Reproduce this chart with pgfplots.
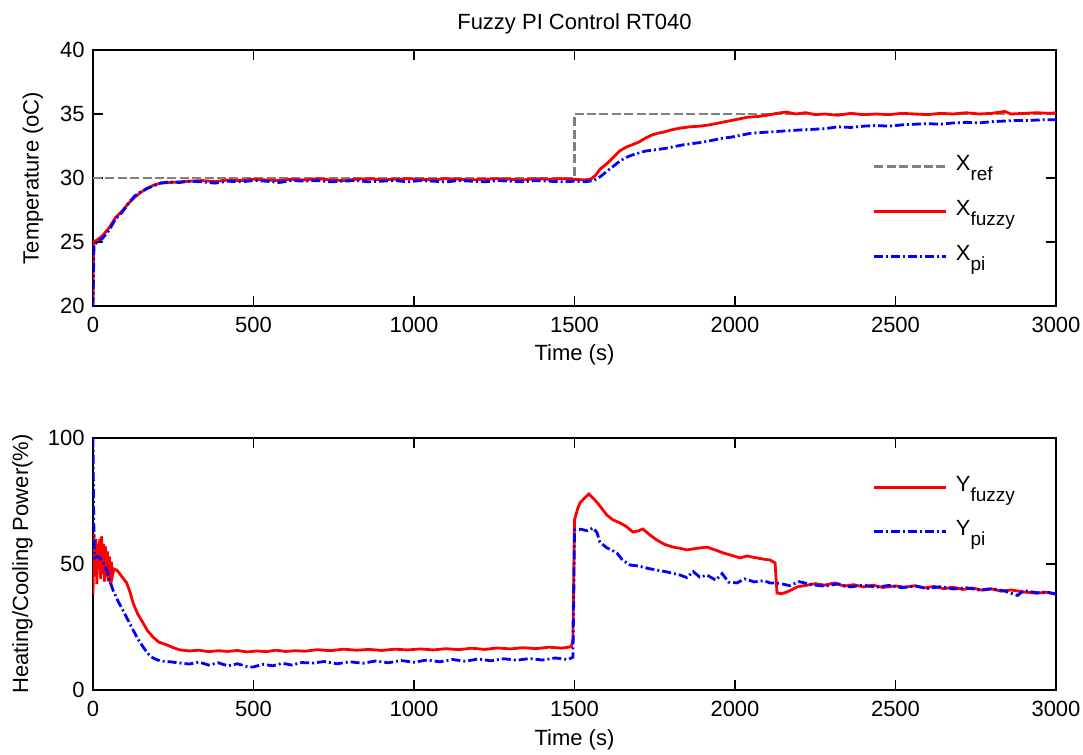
\documentclass[border=0pt]{standalone}
\usepackage{fontspec}
\setmainfont{Liberation Sans}
\usepackage{pgfplots}
\pgfplotsset{compat=1.18}
\usepackage{pgfplotstable}

% hand
\pgfplotstableread{
t T
0 20
2 25.0
15 25.2
30 25.5
50 26.1
70 26.9
90 27.4
110 28.0
130 28.5
150 28.9
170 29.2
190 29.45
210 29.6
240 29.65
270 29.7
300 29.75
340 29.8
380 29.72
420 29.85
460 29.8
500 29.9
540 29.85
580 29.8
620 29.9
660 29.85
700 29.95
740 29.85
780 29.8
820 29.9
860 29.95
900 29.85
940 29.9
980 29.95
1020 29.9
1060 29.85
1100 29.95
1140 29.9
1180 29.85
1220 29.9
1260 29.95
1300 29.9
1340 29.85
1380 29.95
1420 29.9
1460 29.95
1500 29.9
1530 29.85
1550 29.9
1565 30.2
1580 30.7
1600 31.1
1620 31.6
1640 32.1
1660 32.4
1680 32.6
1700 32.8
1720 33.1
1740 33.35
1760 33.5
1780 33.6
1800 33.75
1830 33.9
1860 34.0
1890 34.05
1920 34.15
1950 34.3
1980 34.45
2010 34.6
2040 34.75
2070 34.8
2100 34.9
2130 35.05
2160 35.15
2190 35.0
2220 35.1
2250 34.95
2280 35.0
2320 34.9
2360 35.05
2400 34.95
2440 35.0
2480 34.95
2520 35.05
2560 35.0
2600 34.95
2640 35.05
2680 35.0
2720 35.1
2760 35.0
2800 35.05
2840 35.2
2860 35.0
2900 35.05
2940 35.1
2980 35.05
3000 35.1
}\xfuzzy

\pgfplotstableread{
t T
0 20
3 24.8
15 25.0
30 25.3
50 25.9
70 26.8
90 27.3
110 28.0
130 28.6
150 28.95
170 29.2
190 29.4
210 29.6
240 29.7
270 29.65
300 29.75
340 29.7
380 29.6
420 29.75
460 29.7
500 29.8
540 29.75
580 29.65
620 29.8
660 29.75
700 29.8
740 29.7
780 29.75
820 29.8
860 29.7
900 29.75
940 29.8
980 29.7
1020 29.8
1060 29.75
1100 29.7
1140 29.8
1180 29.75
1220 29.7
1260 29.8
1300 29.75
1340 29.7
1380 29.8
1420 29.75
1460 29.7
1500 29.75
1530 29.7
1560 29.8
1580 30.1
1600 30.5
1620 30.9
1640 31.3
1660 31.6
1680 31.8
1700 31.95
1720 32.1
1750 32.2
1780 32.3
1810 32.45
1840 32.6
1870 32.7
1900 32.8
1930 32.95
1960 33.1
1990 33.2
2020 33.35
2050 33.5
2080 33.55
2110 33.6
2140 33.65
2170 33.7
2200 33.75
2240 33.8
2280 33.85
2320 34.0
2360 33.95
2400 34.05
2440 34.1
2480 34.05
2520 34.15
2560 34.2
2600 34.25
2640 34.2
2680 34.3
2720 34.35
2760 34.3
2800 34.4
2840 34.45
2880 34.5
2920 34.5
2960 34.55
3000 34.55
}\xpi

\pgfplotstableread{
t P
0 38
3 62
6 45
9 60
12 42
15 58
18 48
21 60
24 44
27 61
30 46
33 58
36 43
39 57
42 45
45 55
48 43
51 53
54 42
57 51
60 45
65 48
75 47.5
90 45
105 42.5
115 39
125 34.5
140 30
156 26.6
170 23.5
187 21
205 19
230 17.9
250 16.8
271 15.9
300 15.5
330 15.8
360 15.2
390 15.6
420 15.3
450 15.7
480 15.1
510 15.5
540 15.2
570 15.8
600 15.3
630 15.6
660 15.4
700 16.0
740 15.6
780 16.2
820 15.8
860 16.1
900 15.7
940 16.2
980 15.9
1020 16.3
1060 15.9
1100 16.4
1140 16.0
1180 16.6
1220 16.1
1260 16.7
1300 16.3
1340 16.8
1380 16.4
1420 17.0
1460 16.6
1490 17.2
1495 20
1500 67.5
1510 72
1517 74.2
1530 76
1545 77.8
1570 74.5
1601 69.4
1620 67.5
1642 66.3
1660 65
1682 62.7
1700 63.2
1713 63.9
1735 61.5
1757 59.5
1780 57.8
1807 56.7
1830 56.2
1850 55.6
1880 56.2
1913 56.7
1940 55.5
1963 54.4
1990 53.4
2016 52.4
2037 53.2
2060 52.6
2090 51.9
2109 51.6
2125 50.4
2128 44
2131 38.5
2145 38.2
2162 38.9
2180 40
2193 40.9
2220 41.5
2250 42.2
2280 41.6
2310 42.5
2340 41.2
2370 41.8
2400 40.9
2430 41.6
2460 40.7
2500 41.3
2530 40.8
2560 41.4
2590 40.5
2620 41.1
2650 40.2
2680 40.8
2710 39.9
2740 40.5
2770 39.6
2800 40.1
2830 39.2
2860 39.7
2900 38.9
2940 38.4
2970 38.8
3000 38.0
}\yfuzzy

\pgfplotstableread{
t P
0 100
2 70
4 55
6 52.5
12 53
22 52.4
30 51
43 47.6
52 43.5
62 39.7
77 35.5
93 31.7
110 27.5
125 23.8
140 20.2
156 17.1
170 14.6
187 12.7
210 11.5
240 11.2
271 10.7
300 10.3
330 11.1
360 9.9
390 10.8
420 9.6
450 10.4
480 9.3
498 9.1
530 10.2
560 9.6
590 10.6
620 9.9
650 10.9
685 10.7
720 11.3
760 10.4
800 11.2
840 10.6
880 11.5
920 10.8
960 11.7
1000 11.0
1040 11.9
1080 11.2
1120 12.1
1160 11.4
1200 12.3
1240 11.6
1280 12.4
1320 11.8
1360 12.5
1400 11.9
1440 12.7
1480 12.1
1495 13
1498 40
1500 63.5
1520 63.8
1540 63.2
1558 64.3
1570 62.5
1579 58.7
1600 56.5
1632 54.4
1650 51.5
1673 49.6
1700 49.2
1730 48.2
1757 47.6
1790 46.8
1829 45.6
1850 44.6
1870 47
1890 44.8
1913 45.6
1940 43.6
1960 46.2
1980 42.8
2006 42.5
2030 44.1
2060 42.9
2090 43.4
2109 42.5
2140 42.3
2170 41.4
2200 43
2243 41.7
2280 41.2
2320 42.1
2360 40.9
2400 41.6
2440 40.8
2480 41.5
2520 40.6
2560 41.3
2600 40.3
2640 41.0
2680 40.1
2720 40.6
2760 39.7
2800 40.2
2840 39.3
2880 37.5
2900 39.5
2940 38.6
2970 38.9
3000 38.1
}\ypi

\definecolor{refgray}{RGB}{128,128,128}

\pgfplotsset{
  matlab/.style={
    scale only axis,
    width=481.5pt,
    font=\fontsize{11}{13}\selectfont,
    /pgf/number format/assume math mode=true,
    /pgf/number format/1000 sep={},
    axis line style={line width=0.6pt},
    tick style={black, line width=0.6pt},
    tick align=inside,
    major tick length=4.8pt,
    xmin=0, xmax=3000,
    xtick={0,500,...,3000},
    scaled x ticks=false,
    xticklabel style={inner sep=0pt, yshift=-5.5pt},
    yticklabel style={inner sep=0pt, xshift=-4pt},
    xlabel={Time (s)},
    legend cell align=left,
    legend image code/.code={\draw[##1] (0pt,0pt) -- (36pt,0pt);},
  },
  refline/.style={refgray, line width=1.4pt, dash pattern=on 4.5pt off 1.7pt},
  fuzline/.style={red, line width=1.4pt},
  piline/.style={blue, line width=1.4pt, dash pattern=on 4.5pt off 1.5pt on 1pt off 1.5pt},
}

\newcommand{\sub}[1]{\raisebox{-5pt}{\fontsize{9.5}{9.5}\selectfont #1}}

\begin{document}
\begin{tikzpicture}
\useasboundingbox (-46.5pt,25pt) rectangle (495pt,-352.5pt);

\begin{axis}[matlab,
  at={(0pt,0pt)}, anchor=north west,
  height=128pt,
  ymin=20, ymax=40, ytick={20,25,...,40},
  ylabel={Temperature (oC)},
  title={Fuzzy PI Control RT040},
  title style={at={(axis description cs:0.5,1)}, anchor=center, yshift=7pt, inner sep=0pt},
  xlabel style={at={(axis description cs:0.5,0)}, anchor=center, yshift=-24.5pt, inner sep=0pt},
  ylabel style={at={(axis description cs:-0.0623,0.5)}, anchor=center, inner sep=0pt},
  legend style={draw=none, fill=none, inner sep=0pt, outer sep=0pt,
    at={(0.81,0.622)}, anchor=north west, row sep=2.5pt, column sep=4pt,
    nodes={inner sep=0pt, text height=12pt, text depth=8pt}},
]
\addplot[refline] coordinates {(0,30) (1500,30) (1500,35) (3000,35)};
\addlegendentry{X\sub{ref}}
\addplot[fuzline] table[x=t, y=T] {\xfuzzy};
\addlegendentry{X\sub{fuzzy}}
\addplot[piline] table[x=t, y=T] {\xpi};
\addlegendentry{X\sub{pi}}
\end{axis}

\begin{axis}[matlab,
  at={(0pt,-194pt)}, anchor=north west,
  height=126pt,
  ymin=0, ymax=100, ytick={0,50,100},
  ylabel={Heating/Cooling Power(\%)},
  xlabel style={at={(axis description cs:0.5,0)}, anchor=center, yshift=-25pt, inner sep=0pt},
  ylabel style={at={(axis description cs:-0.0733,0.5)}, anchor=center, inner sep=0pt},
  legend style={draw=none, fill=none, inner sep=0pt, outer sep=0pt,
    at={(0.81,0.882)}, anchor=north west, row sep=2pt, column sep=4pt,
    nodes={inner sep=0pt, text height=12pt, text depth=8pt}},
]
\addplot[fuzline] table[x=t, y=P] {\yfuzzy};
\addlegendentry{Y\sub{fuzzy}}
\addplot[piline] table[x=t, y=P] {\ypi};
\addlegendentry{Y\sub{pi}}
\end{axis}
\end{tikzpicture}
\end{document}
